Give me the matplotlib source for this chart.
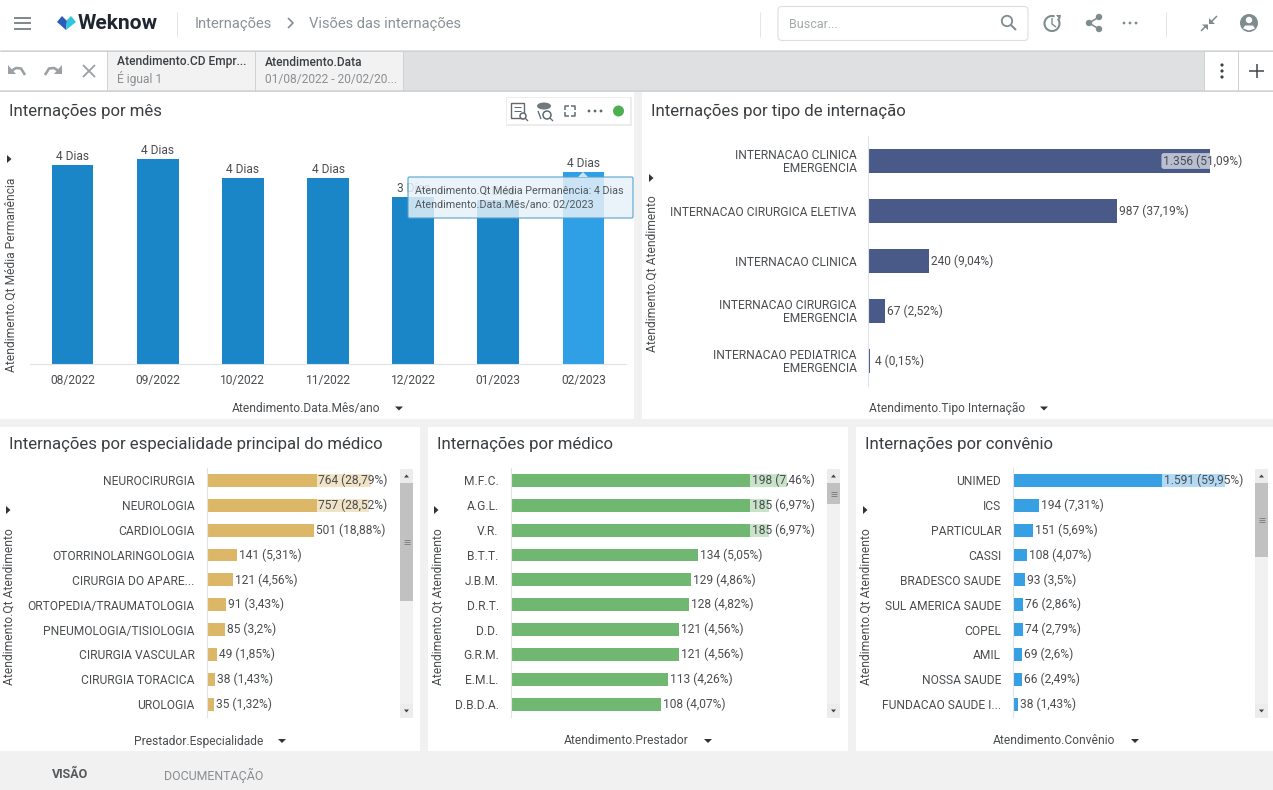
import matplotlib
matplotlib.use("Agg")
import matplotlib.pyplot as plt
from matplotlib.patches import Rectangle, FancyBboxPatch, Polygon, Circle, Arc, Ellipse

plt.rcParams['font.family'] = ['Roboto', 'DejaVu Sans']

W, H = 1273, 790
PT = 0.72  # px -> pt at dpi 100

# ---- data ----
months = ['08/2022', '09/2022', '10/2022', '11/2022', '12/2022', '01/2023', '02/2023']
stay_values = [4.15, 4.27, 3.875, 3.875, 3.48, 3.42, 4.0]
stay_labels = ['4 Dias', '4 Dias', '4 Dias', '4 Dias', '3 Dias', '3 Dias', '4 Dias']

type_names = ['INTERNACAO CLINICA\nEMERGENCIA', 'INTERNACAO CIRURGICA ELETIVA', 'INTERNACAO CLINICA',
              'INTERNACAO CIRURGICA\nEMERGENCIA', 'INTERNACAO PEDIATRICA\nEMERGENCIA']
type_values = [1356, 987, 240, 67, 4]
type_labels = ['1.356 (51,09%)', '987 (37,19%)', '240 (9,04%)', '67 (2,52%)', '4 (0,15%)']

spec_names = ['NEUROCIRURGIA', 'NEUROLOGIA', 'CARDIOLOGIA', 'OTORRINOLARINGOLOGIA', 'CIRURGIA DO APARE...',
              'ORTOPEDIA/TRAUMATOLOGIA', 'PNEUMOLOGIA/TISIOLOGIA', 'CIRURGIA VASCULAR', 'CIRURGIA TORACICA', 'UROLOGIA']
spec_values = [764, 757, 501, 141, 121, 91, 85, 49, 38, 35]
spec_labels = ['764 (28,79%)', '757 (28,52%)', '501 (18,88%)', '141 (5,31%)', '121 (4,56%)',
               '91 (3,43%)', '85 (3,2%)', '49 (1,85%)', '38 (1,43%)', '35 (1,32%)']

doc_names = ['M.F.C.', 'A.G.L.', 'V.R.', 'B.T.T.', 'J.B.M.', 'D.R.T.', 'D.D.', 'G.R.M.', 'E.M.L.', 'D.B.D.A.']
doc_values = [198, 185, 185, 134, 129, 128, 121, 121, 113, 108]
doc_labels = ['198 (7,46%)', '185 (6,97%)', '185 (6,97%)', '134 (5,05%)', '129 (4,86%)',
              '128 (4,82%)', '121 (4,56%)', '121 (4,56%)', '113 (4,26%)', '108 (4,07%)']

ins_names = ['UNIMED', 'ICS', 'PARTICULAR', 'CASSI', 'BRADESCO SAUDE', 'SUL AMERICA SAUDE', 'COPEL', 'AMIL',
             'NOSSA SAUDE', 'FUNDACAO SAUDE I...']
ins_values = [1591, 194, 151, 108, 93, 76, 74, 69, 66, 38]
ins_labels = ['1.591 (59,95%)', '194 (7,31%)', '151 (5,69%)', '108 (4,07%)', '93 (3,5%)', '76 (2,86%)',
              '74 (2,79%)', '69 (2,6%)', '66 (2,49%)', '38 (1,43%)']

# ---- canvas ----
fig = plt.figure(figsize=(W / 100, H / 100), dpi=100, facecolor='#f1f1f1')


def px_axes(x0, y0, x1, y1, z=2):
    a = fig.add_axes([x0 / W, 1 - y1 / H, (x1 - x0) / W, (y1 - y0) / H], zorder=z)
    a.patch.set_alpha(0)
    return a


bg = px_axes(0, 0, W, H, 0)
bg.set_xlim(0, W)
bg.set_ylim(H, 0)
bg.axis('off')
top = px_axes(0, 0, W, H, 6)
top.set_xlim(0, W)
top.set_ylim(H, 0)
top.axis('off')


def rect(a, x0, y0, x1, y1, c, **k):
    a.add_patch(Rectangle((x0, y0), x1 - x0, y1 - y0, fc=c, ec='none', **k))


def txt(a, x, y, s, size, color='#3c3c3c', ha='left', va='center', **k):
    a.text(x, y, s, fontsize=size * PT, color=color, ha=ha, va=va, **k)


def line(a, xs, ys, c, lw=1.0, **k):
    a.plot(xs, ys, color=c, lw=lw * PT, solid_capstyle=k.pop('cap', 'butt'), **k)


# panels
rect(bg, 0, 0, W, 50, 'white')
rect(bg, 0, 50, W, 92, '#dfe0e1')
rect(bg, 0, 92, 634, 419, 'white')
rect(bg, 642, 92, W, 419, 'white')
rect(bg, 0, 427, 420, 751, 'white')
rect(bg, 428, 427, 848, 751, 'white')
rect(bg, 856, 427, W, 751, 'white')

# header
ICON = '#7f8c8d'
for y in (17.5, 23, 28.5):
    line(bg, [14, 31], [y, y], ICON, 2)
bg.add_patch(Polygon([[57, 22], [62, 16], [67, 21], [66, 30]], fc='#2b5cb8', ec='none'))
bg.add_patch(Polygon([[66, 30], [76, 22], [71, 16], [67, 20]], fc='#2ec5dd', ec='none'))
txt(bg, 78, 23.5, 'Weknow', 21, '#1f2630', fontweight='bold')
line(bg, [177, 177], [12, 37], '#e3e5e6')
txt(bg, 195, 23.5, 'Internações', 14.8, '#8a9299')
line(bg, [288, 293, 288], [18, 23, 28], '#7f8990', 1.6)
txt(bg, 309, 23.5, 'Visões das internações', 14.8, '#8a9299')
line(bg, [760, 760], [12, 37], '#e3e5e6')
line(bg, [1166, 1166], [12, 37], '#e3e5e6')
bg.add_patch(FancyBboxPatch((778, 6.5), 250, 34, boxstyle='round,pad=0,rounding_size=4', fc='white', ec='#dcdfe0', lw=0.8))
txt(bg, 789, 24, 'Buscar...', 12.5, '#a3a8ab')
bg.add_patch(Circle((1007, 21), 5.2, fc='none', ec=ICON, lw=1.3))
line(bg, [1011, 1016], [25, 30], ICON, 2)
bg.add_patch(Arc((1052, 23.5), 15, 15, theta1=-40, theta2=290, ec=ICON, lw=1.5))
line(bg, [1052, 1052, 1056], [18, 24, 27], ICON, 1.4)
bg.add_patch(Polygon([[1056, 15], [1061, 15], [1060, 20]], fc=ICON, ec='none'))
line(bg, [1099, 1089, 1099], [17, 23, 29], ICON, 1.6)
for x, y in ((1099, 17), (1089, 23), (1099, 29)):
    bg.add_patch(Circle((x, y), 3.2, fc=ICON, ec='none'))
for x in (1124, 1130, 1136):
    bg.add_patch(Circle((x, 23), 1.4, fc=ICON, ec='none'))
line(bg, [1217, 1210], [16, 23], ICON, 1.5)
bg.add_patch(Polygon([[1209, 24], [1215, 24], [1209, 18]], fc=ICON, ec='none'))
line(bg, [1201, 1207], [31, 25], ICON, 1.5)
bg.add_patch(Polygon([[1208, 24.5], [1202, 24.5], [1208, 30]], fc=ICON, ec='none'))
bg.add_patch(Circle((1249, 23), 9, fc=ICON, ec='none'))
bg.add_patch(Circle((1249, 20), 3.2, fc='white', ec='none'))
bg.add_patch(Polygon([[1243, 28.5], [1245, 25.5], [1253, 25.5], [1255, 28.5], [1249, 30.5]], fc='white', ec='none'))

# filter bar
rect(bg, 0, 51, 107, 91, 'white')
rect(bg, 107, 51, 255, 91, '#f2f2f2')
rect(bg, 255, 51, 403, 91, '#f2f2f2')
rect(bg, 1204, 51, W, 91, 'white')
line(bg, [0, W], [50.5, 50.5], '#cfd1d2')
line(bg, [0, W], [91, 91], '#cfd1d2', 1.5)
for x in (107, 255, 403, 1204, 1238):
    line(bg, [x, x], [51, 91], '#cfd2d3')
UR = '#9aa0a3'
line(bg, [12, 16, 21, 25], [70.5, 68, 68.5, 75], UR, 2.6)
bg.add_patch(Polygon([[8, 65], [8, 74], [16, 74]], fc=UR, ec='none'))
line(bg, [58, 54, 49, 45], [70.5, 68, 68.5, 75], UR, 2.6)
bg.add_patch(Polygon([[62, 65], [62, 74], [54, 74]], fc=UR, ec='none'))
line(bg, [83, 95], [65, 77], UR, 1.8)
line(bg, [83, 95], [77, 65], UR, 1.8)
txt(bg, 117, 62, 'Atendimento.CD Empr...', 12, '#3a3f44', fontweight='medium')
txt(bg, 117, 79, 'É igual 1', 12, '#8a8f93')
txt(bg, 265, 62, 'Atendimento.Data', 12, '#3a3f44', fontweight='medium')
txt(bg, 265, 79, '01/08/2022 - 20/02/20...', 12, '#8a8f93')
for y in (65, 71, 77):
    bg.add_patch(Circle((1222, y), 1.6, fc='#3c4246', ec='none'))
line(bg, [1249, 1264], [71, 71], '#3c4246', 1.5)
line(bg, [1256.5, 1256.5], [64, 78], '#3c4246', 1.5)

# panel titles
TITLE = '#3b3f42'
TS = 16.8
txt(bg, 9, 111, 'Internações por mês', TS, TITLE)
txt(bg, 651, 111, 'Internações por tipo de internação', TS, TITLE)
txt(bg, 9, 444, 'Internações por especialidade principal do médico', TS, TITLE)
txt(bg, 437, 444, 'Internações por médico', TS, TITLE)
txt(bg, 865, 444, 'Internações por convênio', TS, TITLE)

LAB = '#4a4d50'


def axis_titles(ylab, yx, yy, trix, triy, xlab, xc, xy, arrow):
    txt(bg, yx, yy, ylab, 12, LAB, ha='center', rotation=90)
    bg.add_patch(Polygon([[trix - 2, triy - 4], [trix - 2, triy + 4], [trix + 2.5, triy]], fc='#333', ec='none'))
    txt(bg, xc, xy, xlab, 12, LAB, ha='center')
    bg.add_patch(Polygon([[arrow - 4, xy - 2], [arrow + 4, xy - 2], [arrow, xy + 2]], fc='#333', ec='none'))


axis_titles('Atendimento.Qt Média Permanência', 11, 275, 9, 159, 'Atendimento.Data.Mês/ano', 306, 408.5, 399)
axis_titles('Atendimento.Qt Atendimento', 652, 274, 651, 178, 'Atendimento.Tipo Internação', 947, 408.5, 1044)
axis_titles('Atendimento.Qt Atendimento', 9.5, 607, 8, 510, 'Prestador.Especialidade', 199, 741, 282)
axis_titles('Atendimento.Qt Atendimento', 438, 607, 436, 510, 'Atendimento.Prestador', 626, 741, 708)
axis_titles('Atendimento.Qt Atendimento', 866.5, 607, 865, 510, 'Atendimento.Convênio', 1054, 741, 1135)

# ---- column chart ----
ax = px_axes(30, 137, 626, 364)
xs = range(len(months))
colors = ['#1a86c8'] * 6 + ['#2f9fe6']
ax.bar(xs, stay_values, width=0.49, color=colors)
ax.set_xlim(-0.5, 6.5)
ax.set_ylim(0, 4.73)
ax.set_yticks([])
ax.set_xticks(list(xs), months, fontsize=12 * PT, color=LAB)
ax.tick_params(axis='x', length=0, pad=7)
for s in ('top', 'right', 'left'):
    ax.spines[s].set_visible(False)
ax.spines['bottom'].set_color('#dde3e8')
for i, (v, s) in enumerate(zip(stay_values, stay_labels)):
    ax.annotate(s, (i, v), xytext=(0, 1.5), textcoords='offset points', ha='center', va='bottom',
                fontsize=12 * PT, color=LAB)


# ---- horizontal bars ----
def hbars(box, names, values, labels, color, xmax, limit, bar_h, min_off=0, round_box=False):
    a = px_axes(*box)
    y = list(range(len(names)))
    a.barh(y, values, height=bar_h, color=color)
    a.set_xlim(0, xmax)
    a.set_ylim(len(names) - 0.5, -0.5)
    a.set_xticks([])
    a.set_yticks(y, names, fontsize=12 * PT, color=LAB, linespacing=1.0)
    a.tick_params(axis='y', length=0, pad=8.5)
    for s in ('top', 'right', 'bottom'):
        a.spines[s].set_visible(False)
    a.spines['left'].set_color('#dde3e8')
    r = fig.canvas.get_renderer()
    px_per_unit = (box[2] - box[0]) / xmax
    for i, (v, s) in enumerate(zip(values, labels)):
        off = max(2, min_off - v * px_per_unit)
        t = a.annotate(s, (v, i), xytext=(off * PT, 0), textcoords='offset points', va='center', ha='left',
                       fontsize=12 * PT, color=LAB, annotation_clip=False, zorder=5)
        ext = t.get_window_extent(r)
        if ext.x1 > limit:
            shift = ext.x1 - limit
            t.xyann = (t.xyann[0] - shift * PT, 0)
        bb = dict(fc='white', alpha=0.62, ec='none', pad=1)
        if round_box:
            bb['boxstyle'] = 'round,pad=0.1,rounding_size=0.2'
            del bb['pad']
        t.set_bbox(bb)
    return a


hbars((868.5, 136, 1273, 386), type_names, type_values, type_labels, '#4a5a88', 1356 * 404.5 / 341.5, 1242, 0.48,
      min_off=7, round_box=True)
hbars((206.5, 468, 400, 716.5), spec_names, spec_values, spec_labels, '#dcb768', 764 * 193.5 / 164.5, 387.5, 0.52)
hbars((510.5, 468, 827, 716.5), doc_names, doc_values, doc_labels, '#70b871', 198 * 316.5 / 276.5, 814.5, 0.52)
hbars((1013, 468, 1255, 716.5), ins_names, ins_values, ins_labels, '#36a0e3', 1591 * 242 / 212, 1243, 0.52)


# ---- scrollbars ----
def scrollbar(x0, thumb0, thumb1):
    x1 = x0 + 13
    rect(bg, x0, 469, x1, 718, '#f1f1f1')
    rect(bg, x0, thumb0, x1, thumb1, '#c1c1c1')
    for y0, d in ((469, -1), (704, 1)):
        rect(bg, x0, y0, x1, y0 + 14, '#ececec')
        cy = y0 + 7
        xc = (x0 + x1) / 2
        bg.add_patch(Polygon([[xc - 2.5, cy - d * 1.5], [xc + 2.5, cy - d * 1.5], [xc, cy + d * 1.5]], fc='#444', ec='none'))
    ym = (thumb0 + thumb1) / 2
    for dy in (-2, 0, 2):
        line(bg, [x0 + 3.5, x1 - 3.5], [ym + dy, ym + dy], '#7d7d7d', 0.9)


scrollbar(400, 483, 601)
scrollbar(827, 483, 504)
scrollbar(1255, 483, 557)

# footer
txt(bg, 52, 775, 'VISÃO', 12.5, '#55595c', fontweight='bold')
txt(bg, 164, 775, 'DOCUMENTAÇÃO', 12.4, '#8a8e91')

# chart toolbar
top.add_patch(Rectangle((506, 97), 126, 29, fc='#000000', alpha=0.07, ec='none'))
rect(top, 507, 98, 630, 124, 'white')
TB = '#5f6a70'
top.add_patch(Rectangle((511, 103), 13, 15, fc='none', ec=TB, lw=1))
line(top, [514, 521], [107, 107], TB, 1)
line(top, [514, 521], [111, 111], TB, 1)
top.add_patch(Circle((523, 116), 3, fc='white', ec=TB, lw=1.1))
line(top, [525, 528], [118, 121], TB, 1.3)
top.add_patch(Ellipse((544, 106), 14, 7, fc=TB, ec='none', alpha=0.9))
top.add_patch(Circle((547, 115), 4, fc='white', ec=TB, lw=1.1))
line(top, [550, 553], [118, 121], TB, 1.3)
line(top, [538, 541], [111, 119], TB, 1.3)
for (cx, cy, dx, dy) in ((565, 106, 1, 1), (575, 106, -1, 1), (565, 116, 1, -1), (575, 116, -1, -1)):
    line(top, [cx + dx * 4, cx, cx], [cy, cy, cy + dy * 4], TB, 1.5)
for x in (589, 595, 601):
    top.add_patch(Circle((x, 111), 1.4, fc=TB, ec='none'))
top.add_patch(Circle((618.5, 111), 5.5, fc='#4caf50', ec='none'))

# tooltip
top.add_patch(FancyBboxPatch((408, 177), 225, 41, boxstyle='round,pad=0,rounding_size=1.5',
                             fc='#e6f1f8', ec='#4f9fd0', lw=0.9, alpha=0.85))
top.add_patch(Polygon([[578, 177], [588, 177], [583, 172]], fc='#cfe3f0', ec='none'))
txt(top, 415, 190.5, 'Atendimento.Qt Média Permanência: 4 Dias', 10.75, '#50585e')
txt(top, 415, 204, 'Atendimento.Data.Mês/ano: 02/2023', 10.75, '#50585e')

fig.savefig('out.png', dpi=100, facecolor=fig.get_facecolor())
